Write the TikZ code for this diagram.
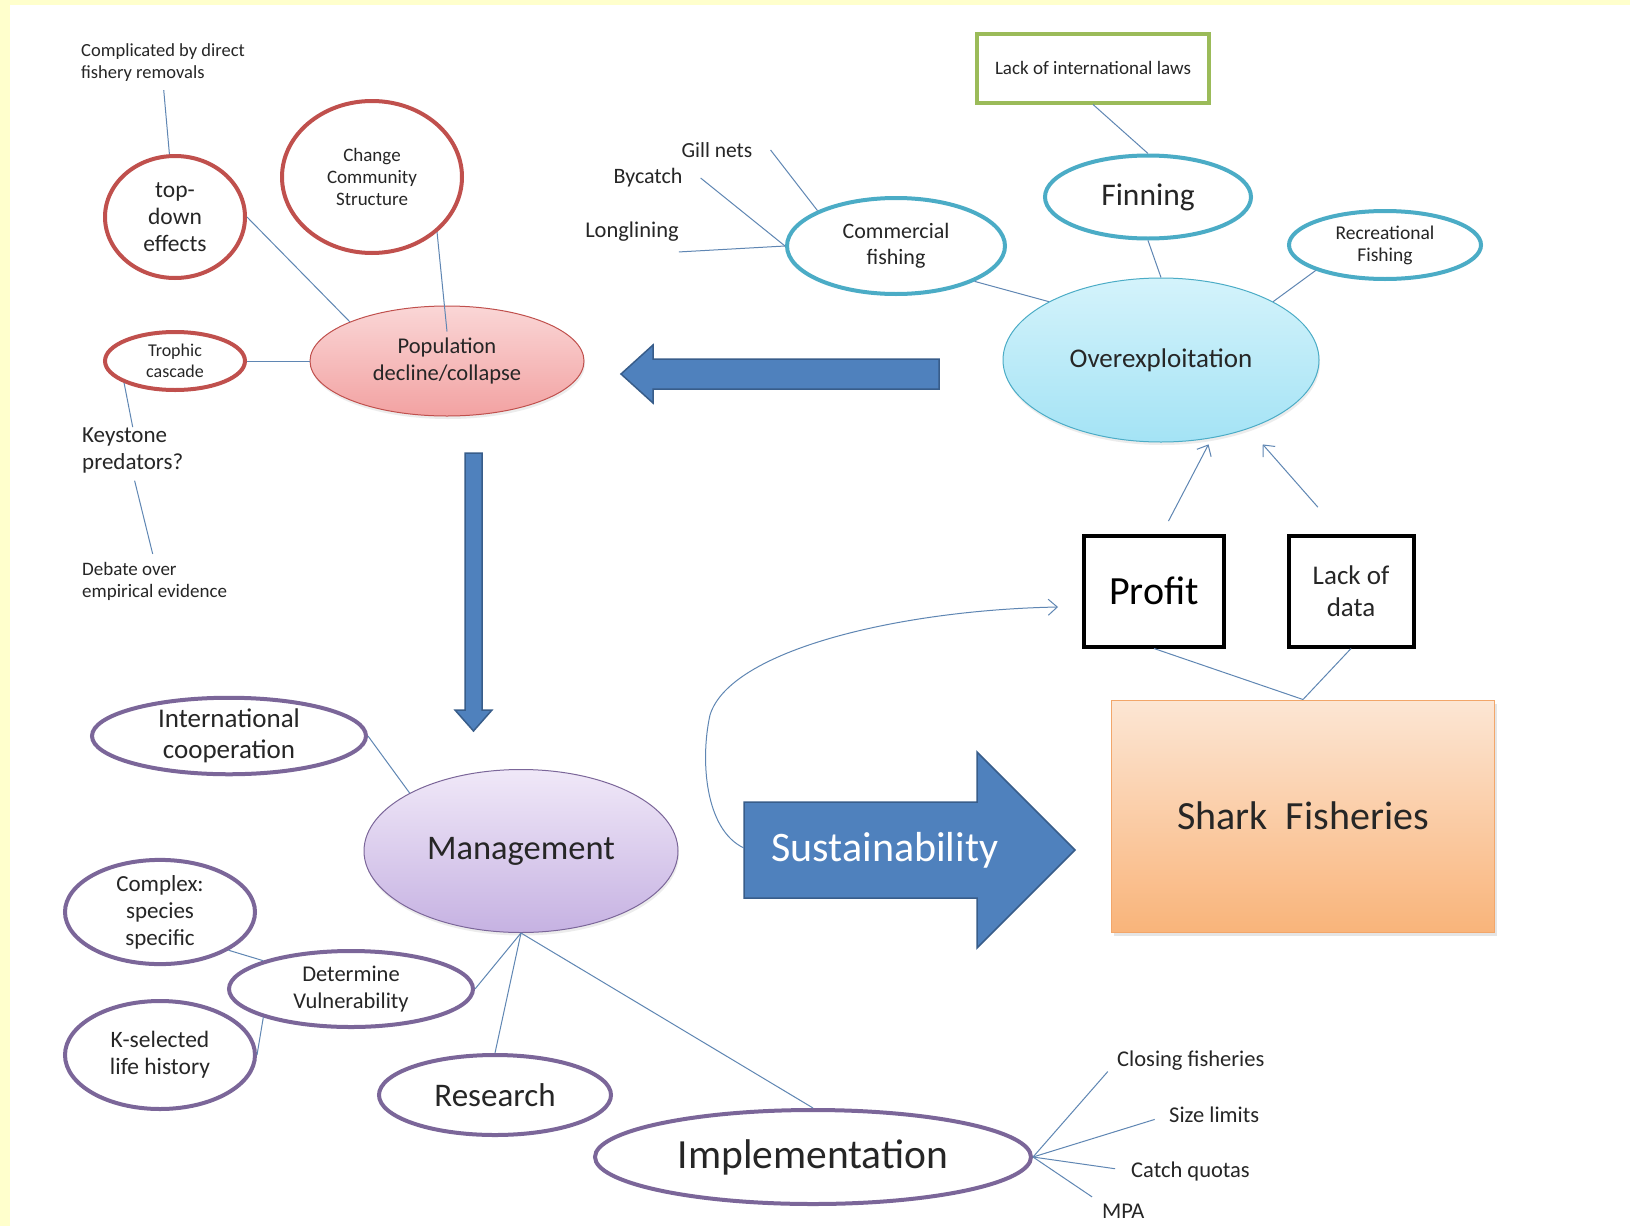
\documentclass[tikz,border=0pt]{standalone}
\usepackage{fontspec}
\setmainfont{Carlito}
\usetikzlibrary{positioning,shapes.geometric,arrows.meta,shadows}

\definecolor{bgyellow}{HTML}{FFFFCC}
\definecolor{redline}{HTML}{C0504D}
\definecolor{tealline}{HTML}{4BACC6}
\definecolor{purpleline}{HTML}{7B6699}
\definecolor{greenline}{HTML}{9BBB59}
\definecolor{linkblue}{HTML}{5F86B3}
\definecolor{arrowblue}{HTML}{4F81BD}
\definecolor{arrowedge}{HTML}{385D8A}
\definecolor{popTop}{HTML}{FAD6D6}
\definecolor{popBot}{HTML}{F2A2A2}
\definecolor{overTop}{HTML}{D4F3FB}
\definecolor{overBot}{HTML}{A4E3F5}
\definecolor{mgmtTop}{HTML}{F0E8F8}
\definecolor{mgmtBot}{HTML}{C6B2E2}
\definecolor{sharkTop}{HTML}{FCE6D4}
\definecolor{sharkBot}{HTML}{F9B47A}
\definecolor{sharkEdge}{HTML}{F2A66A}

\newcommand{\setfs}[2]{\fontsize{#1}{#2}\selectfont}

\begin{document}
\begin{tikzpicture}[x=1pt, y=-1pt,
  bubble/.style={ellipse, draw, line width=4pt, inner sep=0pt, align=center, text=black!85},
  redring/.style={bubble, draw=redline},
  tealring/.style={bubble, draw=tealline},
  purplering/.style={bubble, draw=purpleline},
  hub/.style={ellipse, draw, line width=1pt, inner sep=0pt, align=center, text=black!85,
    drop shadow={opacity=0.15, shadow xshift=1pt, shadow yshift=-3pt}},
  blackbox/.style={rectangle, draw=black, line width=4pt, inner sep=0pt, align=center},
  plain/.style={inner sep=0pt, align=left, text=black!85},
  link/.style={draw=linkblue, line width=1pt},
  linkarrow/.style={link, -{Straight Barb[length=9pt, width=16pt]}},
  blockarrow/.style={fill=arrowblue, draw=arrowedge, line width=1.5pt},
]
% frame
\fill[bgyellow] (0,0) rectangle (1630,1226);
\fill[white] (10,5) rectangle (1630,1226);
\useasboundingbox (0,0) rectangle (1630,1226);

% population decline
\node[plain, anchor=west, font=\setfs{18.5}{22}] (removals) at (81,63) {Complicated by direct\\fishery removals};
\node[redring, minimum width=140pt, minimum height=122pt, font=\setfs{23.5}{27}] (topdown) at (175,217) {top-\\down\\effects};
\node[redring, minimum width=180pt, minimum height=152pt, font=\setfs{19}{22}] (community) at (372,177) {Change\\Community\\Structure};
\node[redring, minimum width=140pt, minimum height=58pt, font=\setfs{18}{21}] (trophic) at (175,361) {Trophic\\cascade};
\node[hub, draw=redline, top color=popTop, bottom color=popBot, minimum width=274pt, minimum height=110pt, font=\setfs{22.5}{27}] (population) at (447,361) {Population\\decline/collapse};
\node[plain, anchor=west, font=\setfs{23}{27}] (keystone) at (82,450) {Keystone\\predators?};
\node[plain, anchor=west, font=\setfs{19}{22}] (debate) at (82,581) {Debate over\\empirical evidence};

\draw[link, shorten <=8pt] (removals.south) -- (topdown);
\draw[link] (topdown.east) -- (population.north west);
\draw[link] (community.south east) -- ([yshift=-26pt]population.north);
\draw[link] (trophic.east) -- (population.west);
\draw[link] (trophic.south west) -- (keystone.north);
\draw[link, shorten <=8pt, shorten >=8pt] (keystone.south) -- (debate.north);

% overexploitation
\node[rectangle, draw=greenline, line width=4pt, minimum width=232pt, minimum height=69pt, font=\setfs{19}{22}, text=black!85] (intlaws) at (1093,68) {Lack of international laws};
\node[tealring, minimum width=206pt, minimum height=83pt, font=\setfs{31.5}{36}] (finning) at (1148,197) {Finning};
\node[tealring, minimum width=218pt, minimum height=96pt, font=\setfs{22}{26}] (commercial) at (896,246) {Commercial\\fishing};
\node[tealring, minimum width=192pt, minimum height=68pt, font=\setfs{19.5}{22}] (recreational) at (1385,245) {Recreational\\Fishing};
\node[hub, draw=tealline, top color=overTop, bottom color=overBot, minimum width=316pt, minimum height=164pt, font=\setfs{27}{30}] (overexp) at (1161,360) {Overexploitation};
\node[plain, font=\setfs{21.5}{24}] (gillnets) at (717,150) {Gill nets};
\node[plain, font=\setfs{22}{24}] (bycatch) at (648,178) {Bycatch};
\node[plain, font=\setfs{22.5}{24}] (longlining) at (632,232) {Longlining};

\draw[link] (intlaws.south) -- (finning.north);
\draw[link] (finning.south) -- (overexp.north);
\draw[link] (commercial.south east) -- (overexp.north west);
\draw[link] (recreational.south west) -- (overexp.north east);
\draw[link] ([xshift=18pt]gillnets.east) -- (commercial.north west);
\draw[link] ([xshift=18pt]bycatch.east) -- (commercial.west);
\draw[link] ([yshift=-10pt]longlining.south east) -- (commercial.west);

% big arrows
\draw[blockarrow] (939,359) -- (653,359) -- (653,345) -- (621,374) -- (653,403) -- (653,389) -- (939,389) -- cycle;
\draw[blockarrow] (465,453) -- (465,710) -- (455,710) -- (473.5,731) -- (492,710) -- (482,710) -- (482,453) -- cycle;
\draw[blockarrow] (744,802) -- (977,802) -- (977,752) -- (1075,850) -- (977,948) -- (977,898) -- (744,898) -- cycle;
\node[text=white, font=\setfs{42}{46}] (sustain) at (885,850) {Sustainability};

% shark fisheries
\node[blackbox, minimum width=140pt, minimum height=111pt, font=\setfs{40}{44}] (profit) at (1154,591) {Profit};
\node[blackbox, minimum width=125pt, minimum height=111pt, font=\setfs{27}{32}, text=black!85] (nodata) at (1351,591) {Lack of\\data};
\node[rectangle, draw=sharkEdge, line width=1pt, top color=sharkTop, bottom color=sharkBot, minimum width=383pt, minimum height=232pt, font=\setfs{40}{44}, text=black!85,
  drop shadow={opacity=0.2, shadow xshift=2pt, shadow yshift=-4pt}] (shark) at (1303,816) {Shark\ \ Fisheries};

\draw[linkarrow, shorten <=14pt, shorten >=7pt] ([xshift=8pt]profit.north) -- (overexp.-57);
\draw[linkarrow, shorten <=35pt, shorten >=21pt] ([xshift=-10pt]nodata.north) -- (overexp.-38);
\draw[link] (profit.south) -- (shark.north);
\draw[link] (nodata.south) -- (shark.north);

\coordinate (susTail) at (744,848);
\coordinate (profitHook) at (1058,607);
\draw[linkarrow] (susTail) .. controls (705,830) and (700,760) .. (710,715) .. controls (730,650) and (900,610) .. (profitHook);

% management
\node[purplering, minimum width=274pt, minimum height=67pt, font=\setfs{27}{31}] (intlcoop) at (229,736) {International\\cooperation};
\node[hub, draw=purpleline, top color=mgmtTop, bottom color=mgmtBot, minimum width=314pt, minimum height=163pt, font=\setfs{34.5}{38}] (management) at (521,851) {Management};
\node[purplering, minimum width=190pt, minimum height=93pt, font=\setfs{23}{27}] (complex) at (160,912) {Complex:\\species\\specific};
\node[purplering, minimum width=244pt, minimum height=76pt, font=\setfs{22.5}{27}] (vulner) at (351,989) {Determine\\Vulnerability};
\node[purplering, minimum width=190pt, minimum height=108pt, font=\setfs{23.5}{27}] (kselect) at (160,1055) {K-selected\\life history};
\node[purplering, minimum width=232pt, minimum height=80pt, font=\setfs{33}{36}] (research) at (495,1095) {Research};
\node[purplering, minimum width=436pt, minimum height=94pt, font=\setfs{41.5}{44}] (implement) at (813,1157) {Implementation};
\node[plain, anchor=west, font=\setfs{22.5}{24}] (closing) at (1117,1061) {Closing fisheries};
\node[plain, anchor=west, font=\setfs{22.5}{24}] (sizelim) at (1169,1115) {Size limits};
\node[plain, anchor=west, font=\setfs{22.5}{24}] (quotas) at (1131,1171) {Catch quotas};
\node[plain, anchor=west, font=\setfs{22.5}{24}] (mpa) at (1102,1211) {MPA};

\draw[link] (intlcoop.east) -- (management.north west);
\draw[link] (management.south) -- (vulner.east);
\draw[link] (management.south) -- (research.north);
\draw[link] (management.south) -- (implement.north);
\draw[link] (complex.south east) -- (vulner.north west);
\draw[link] (kselect.east) -- (vulner.south west);
\draw[link, shorten >=14pt] (implement.east) -- (closing.west);
\draw[link, shorten >=15pt] (implement.east) -- (sizelim.west);
\draw[link, shorten >=16pt] (implement.east) -- (quotas.west);
\draw[link, shorten >=12pt] (implement.east) -- (mpa.north west);
\end{tikzpicture}
\end{document}
